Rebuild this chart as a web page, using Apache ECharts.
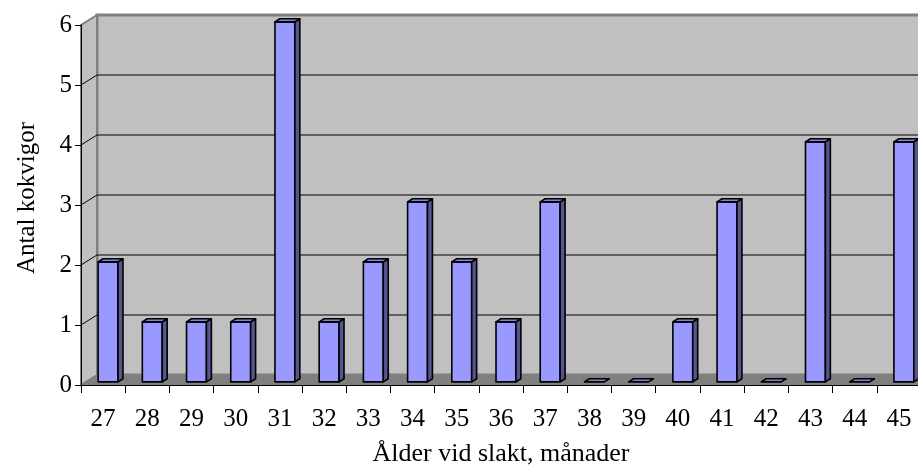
<!DOCTYPE html>
<html><head><meta charset="utf-8">
<script src="https://cdn.jsdelivr.net/npm/echarts@6/dist/echarts.min.js"></script>
<style>html,body{margin:0;padding:0;background:#fff}#c{width:918px;height:474px}</style>
</head><body><div id="c"></div>
<script>
const categories = ['27','28','29','30','31','32','33','34','35','36','37','38','39','40','41','42','43','44','45'];
const counts = [2,1,1,1,6,1,2,3,2,1,3,0,0,1,3,0,4,0,4];
const yTicks = [0,1,2,3,4,5,6];

const DX = 16, DY = -10, T0 = 0.31, T1 = 0.62;
const FONT = '"Liberation Serif", "Times New Roman", serif';

function renderWalls(params, api) {
  const cs = params.coordSys;
  const x0 = cs.x, y0 = cs.y, w = cs.width, h = cs.height, yb = y0 + h;
  const ch = [];
  ch.push({type:'polygon', shape:{points:[[x0+DX,y0+DY],[x0+w+DX,y0+DY],[x0+w+DX,yb+DY],[x0+DX,yb+DY]]},
    style:{fill:'#c0c0c0', stroke:'#808080', lineWidth:3}});
  ch.push({type:'polygon', shape:{points:[[x0,yb],[x0,y0],[x0+DX,y0+DY],[x0+DX,yb+DY]]},
    style:{fill:'#c0c0c0', stroke:'#808080', lineWidth:2}});
  ch.push({type:'polygon', shape:{points:[[x0,yb],[x0+w,yb],[x0+w+DX,yb+DY],[x0+DX,yb+DY]]},
    style:{fill:'#808080', stroke:'#808080', lineWidth:1}});
  yTicks.forEach(function(v){
    if (v === 0 || v === yTicks[yTicks.length-1]) return;
    const p = api.coord([0, v]);
    ch.push({type:'line', shape:{x1:x0, y1:p[1], x2:x0+DX, y2:p[1]+DY}, style:{stroke:'#000', lineWidth:1}});
    ch.push({type:'line', shape:{x1:x0+DX, y1:p[1]+DY, x2:x0+w+DX, y2:p[1]+DY}, style:{stroke:'#000', lineWidth:1}});
  });
  return {type:'group', children: ch};
}

function renderBar(params, api) {
  const cat = api.value(0), v = api.value(1);
  const top = api.coord([cat, v]), base = api.coord([cat, 0]);
  const bw = api.size([1, 0])[0] * 0.45;
  const ox = T0 * DX, oy = T0 * DY, ddx = (T1 - T0) * DX, ddy = (T1 - T0) * DY;
  const xl = top[0] - bw/2 + ox, xr = top[0] + bw/2 + ox;
  const yt = top[1] + oy, yb = base[1] + oy;
  const st = {stroke:'#000', lineWidth:1.6, lineJoin:'round'};
  const ch = [];
  if (v > 0) {
    ch.push({type:'rect', shape:{x:xl, y:yt, width:xr-xl, height:yb-yt}, style:Object.assign({fill:'#9999ff'}, st)});
    ch.push({type:'polygon', shape:{points:[[xr,yt],[xr+ddx,yt+ddy],[xr+ddx,yb+ddy],[xr,yb]]}, style:Object.assign({fill:'#55558f'}, st)});
  }
  ch.push({type:'polygon', shape:{points:[[xl,yt],[xr,yt],[xr+ddx,yt+ddy],[xl+ddx,yt+ddy]]}, style:Object.assign({fill:'#8282d8'}, st)});
  return {type:'group', children: ch};
}

const chart = echarts.init(document.getElementById('c'));
chart.setOption({
  animation: false,
  backgroundColor: '#ffffff',
  grid: {left: 81, top: 25, width: 840, height: 360, containLabel: false, outerBoundsMode: 'none'},
  xAxis: {
    type: 'category', data: categories, boundaryGap: true, z: 10,
    axisLine: {show: true, lineStyle: {color: '#000', width: 1}},
    axisTick: {show: true, length: 8, lineStyle: {color: '#000'}},
    axisLabel: {color: '#000', fontFamily: FONT, fontSize: 25, margin: 22, interval: 0},
    splitLine: {show: false},
    name: 'Ålder vid slakt, månader', nameLocation: 'middle', nameGap: 56,
    nameTextStyle: {color: '#000', fontFamily: FONT, fontSize: 26}
  },
  yAxis: {
    type: 'value', min: 0, max: 6, interval: 1, z: 10,
    axisLine: {show: true, lineStyle: {color: '#000', width: 1}},
    axisTick: {show: true, length: 6, lineStyle: {color: '#000'}},
    axisLabel: {color: '#000', fontFamily: FONT, fontSize: 25, margin: 9},
    splitLine: {show: false},
    name: 'Antal kokvigor', nameLocation: 'middle', nameGap: 41, nameRotate: 90,
    nameTextStyle: {color: '#000', fontFamily: FONT, fontSize: 25, padding: [0, 0, 0, 14]}
  },
  series: [
    {type: 'custom', name: 'walls', z: 1, renderItem: renderWalls, data: [[0, 0]], silent: true, clip: false},
    {type: 'custom', name: 'Antal', z: 2, renderItem: renderBar, clip: false,
     data: counts.map(function(v, i){ return [i, v]; })}
  ]
});
</script>
</body></html>
